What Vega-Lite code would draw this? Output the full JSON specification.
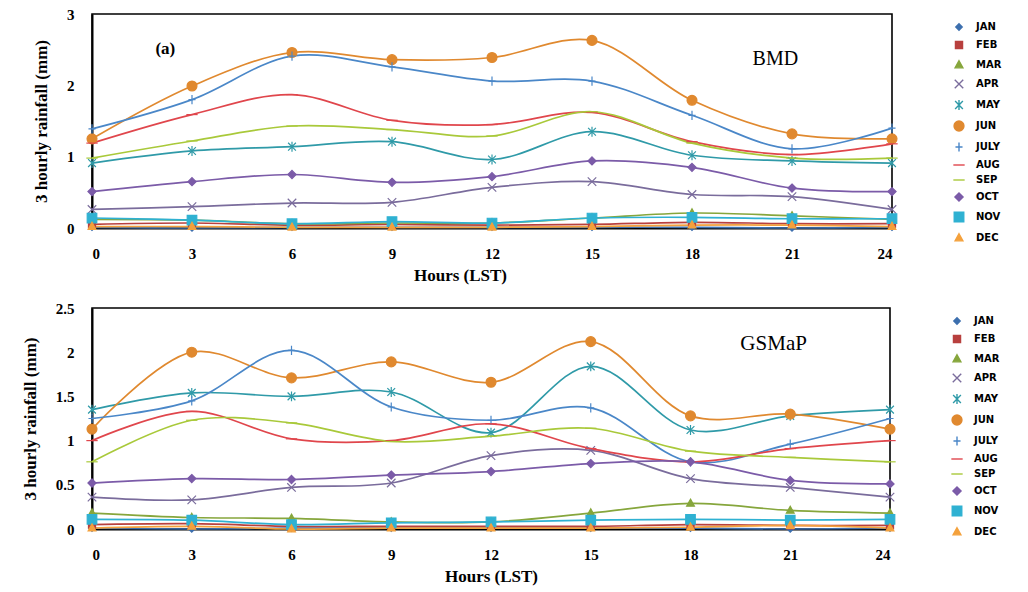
{
"$schema": "https://vega.github.io/schema/vega-lite/v6.json",
"background": "white",
"padding": {"left": 20, "top": 6, "right": 4, "bottom": 2},
"spacing": 16,
"datasets": {
"bmd": [
{"m":"JAN","h":0,"v":0.01},{"m":"JAN","h":3,"v":0.0},{"m":"JAN","h":6,"v":0.01},{"m":"JAN","h":9,"v":0.01},{"m":"JAN","h":12,"v":0.01},{"m":"JAN","h":15,"v":0.01},{"m":"JAN","h":18,"v":0.01},{"m":"JAN","h":21,"v":0.0},{"m":"JAN","h":24,"v":0.01},
{"m":"FEB","h":0,"v":0.05},{"m":"FEB","h":3,"v":0.07},{"m":"FEB","h":6,"v":0.04},{"m":"FEB","h":9,"v":0.05},{"m":"FEB","h":12,"v":0.04},{"m":"FEB","h":15,"v":0.05},{"m":"FEB","h":18,"v":0.08},{"m":"FEB","h":21,"v":0.06},{"m":"FEB","h":24,"v":0.06},
{"m":"MAR","h":0,"v":0.12},{"m":"MAR","h":3,"v":0.11},{"m":"MAR","h":6,"v":0.06},{"m":"MAR","h":9,"v":0.07},{"m":"MAR","h":12,"v":0.07},{"m":"MAR","h":15,"v":0.14},{"m":"MAR","h":18,"v":0.21},{"m":"MAR","h":21,"v":0.17},{"m":"MAR","h":24,"v":0.12},
{"m":"APR","h":0,"v":0.26},{"m":"APR","h":3,"v":0.30},{"m":"APR","h":6,"v":0.35},{"m":"APR","h":9,"v":0.36},{"m":"APR","h":12,"v":0.57},{"m":"APR","h":15,"v":0.65},{"m":"APR","h":18,"v":0.47},{"m":"APR","h":21,"v":0.44},{"m":"APR","h":24,"v":0.26},
{"m":"MAY","h":0,"v":0.91},{"m":"MAY","h":3,"v":1.08},{"m":"MAY","h":6,"v":1.14},{"m":"MAY","h":9,"v":1.21},{"m":"MAY","h":12,"v":0.96},{"m":"MAY","h":15,"v":1.35},{"m":"MAY","h":18,"v":1.02},{"m":"MAY","h":21,"v":0.94},{"m":"MAY","h":24,"v":0.91},
{"m":"JUN","h":0,"v":1.25},{"m":"JUN","h":3,"v":1.99},{"m":"JUN","h":6,"v":2.46},{"m":"JUN","h":9,"v":2.36},{"m":"JUN","h":12,"v":2.39},{"m":"JUN","h":15,"v":2.63},{"m":"JUN","h":18,"v":1.79},{"m":"JUN","h":21,"v":1.32},{"m":"JUN","h":24,"v":1.25},
{"m":"JULY","h":0,"v":1.39},{"m":"JULY","h":3,"v":1.80},{"m":"JULY","h":6,"v":2.41},{"m":"JULY","h":9,"v":2.26},{"m":"JULY","h":12,"v":2.06},{"m":"JULY","h":15,"v":2.06},{"m":"JULY","h":18,"v":1.58},{"m":"JULY","h":21,"v":1.11},{"m":"JULY","h":24,"v":1.40},
{"m":"AUG","h":0,"v":1.19},{"m":"AUG","h":3,"v":1.59},{"m":"AUG","h":6,"v":1.87},{"m":"AUG","h":9,"v":1.51},{"m":"AUG","h":12,"v":1.45},{"m":"AUG","h":15,"v":1.62},{"m":"AUG","h":18,"v":1.21},{"m":"AUG","h":21,"v":1.03},{"m":"AUG","h":24,"v":1.18},
{"m":"SEP","h":0,"v":0.98},{"m":"SEP","h":3,"v":1.22},{"m":"SEP","h":6,"v":1.43},{"m":"SEP","h":9,"v":1.38},{"m":"SEP","h":12,"v":1.29},{"m":"SEP","h":15,"v":1.63},{"m":"SEP","h":18,"v":1.19},{"m":"SEP","h":21,"v":0.98},{"m":"SEP","h":24,"v":0.98},
{"m":"OCT","h":0,"v":0.51},{"m":"OCT","h":3,"v":0.65},{"m":"OCT","h":6,"v":0.75},{"m":"OCT","h":9,"v":0.64},{"m":"OCT","h":12,"v":0.72},{"m":"OCT","h":15,"v":0.94},{"m":"OCT","h":18,"v":0.85},{"m":"OCT","h":21,"v":0.56},{"m":"OCT","h":24,"v":0.51},
{"m":"NOV","h":0,"v":0.14},{"m":"NOV","h":3,"v":0.11},{"m":"NOV","h":6,"v":0.06},{"m":"NOV","h":9,"v":0.09},{"m":"NOV","h":12,"v":0.07},{"m":"NOV","h":15,"v":0.14},{"m":"NOV","h":18,"v":0.15},{"m":"NOV","h":21,"v":0.13},{"m":"NOV","h":24,"v":0.13},
{"m":"DEC","h":0,"v":0.02},{"m":"DEC","h":3,"v":0.02},{"m":"DEC","h":6,"v":0.01},{"m":"DEC","h":9,"v":0.01},{"m":"DEC","h":12,"v":0.01},{"m":"DEC","h":15,"v":0.02},{"m":"DEC","h":18,"v":0.04},{"m":"DEC","h":21,"v":0.04},{"m":"DEC","h":24,"v":0.02}
],
"gsmap": [
{"m":"JAN","h":0,"v":0.01},{"m":"JAN","h":3,"v":0.0},{"m":"JAN","h":6,"v":0.01},{"m":"JAN","h":9,"v":0.01},{"m":"JAN","h":12,"v":0.01},{"m":"JAN","h":15,"v":0.01},{"m":"JAN","h":18,"v":0.01},{"m":"JAN","h":21,"v":0.0},{"m":"JAN","h":24,"v":0.01},
{"m":"FEB","h":0,"v":0.05},{"m":"FEB","h":3,"v":0.06},{"m":"FEB","h":6,"v":0.03},{"m":"FEB","h":9,"v":0.03},{"m":"FEB","h":12,"v":0.03},{"m":"FEB","h":15,"v":0.03},{"m":"FEB","h":18,"v":0.05},{"m":"FEB","h":21,"v":0.04},{"m":"FEB","h":24,"v":0.04},
{"m":"MAR","h":0,"v":0.18},{"m":"MAR","h":3,"v":0.13},{"m":"MAR","h":6,"v":0.12},{"m":"MAR","h":9,"v":0.08},{"m":"MAR","h":12,"v":0.08},{"m":"MAR","h":15,"v":0.18},{"m":"MAR","h":18,"v":0.29},{"m":"MAR","h":21,"v":0.21},{"m":"MAR","h":24,"v":0.18},
{"m":"APR","h":0,"v":0.36},{"m":"APR","h":3,"v":0.33},{"m":"APR","h":6,"v":0.47},{"m":"APR","h":9,"v":0.52},{"m":"APR","h":12,"v":0.83},{"m":"APR","h":15,"v":0.89},{"m":"APR","h":18,"v":0.57},{"m":"APR","h":21,"v":0.47},{"m":"APR","h":24,"v":0.36},
{"m":"MAY","h":0,"v":1.35},{"m":"MAY","h":3,"v":1.54},{"m":"MAY","h":6,"v":1.50},{"m":"MAY","h":9,"v":1.55},{"m":"MAY","h":12,"v":1.09},{"m":"MAY","h":15,"v":1.84},{"m":"MAY","h":18,"v":1.12},{"m":"MAY","h":21,"v":1.28},{"m":"MAY","h":24,"v":1.35},
{"m":"JUN","h":0,"v":1.13},{"m":"JUN","h":3,"v":2.00},{"m":"JUN","h":6,"v":1.71},{"m":"JUN","h":9,"v":1.89},{"m":"JUN","h":12,"v":1.66},{"m":"JUN","h":15,"v":2.12},{"m":"JUN","h":18,"v":1.28},{"m":"JUN","h":21,"v":1.30},{"m":"JUN","h":24,"v":1.13},
{"m":"JULY","h":0,"v":1.25},{"m":"JULY","h":3,"v":1.45},{"m":"JULY","h":6,"v":2.02},{"m":"JULY","h":9,"v":1.38},{"m":"JULY","h":12,"v":1.23},{"m":"JULY","h":15,"v":1.37},{"m":"JULY","h":18,"v":0.76},{"m":"JULY","h":21,"v":0.96},{"m":"JULY","h":24,"v":1.25},
{"m":"AUG","h":0,"v":1.00},{"m":"AUG","h":3,"v":1.33},{"m":"AUG","h":6,"v":1.02},{"m":"AUG","h":9,"v":1.00},{"m":"AUG","h":12,"v":1.19},{"m":"AUG","h":15,"v":0.91},{"m":"AUG","h":18,"v":0.76},{"m":"AUG","h":21,"v":0.91},{"m":"AUG","h":24,"v":1.00},
{"m":"SEP","h":0,"v":0.76},{"m":"SEP","h":3,"v":1.23},{"m":"SEP","h":6,"v":1.20},{"m":"SEP","h":9,"v":0.99},{"m":"SEP","h":12,"v":1.05},{"m":"SEP","h":15,"v":1.14},{"m":"SEP","h":18,"v":0.88},{"m":"SEP","h":21,"v":0.81},{"m":"SEP","h":24,"v":0.76},
{"m":"OCT","h":0,"v":0.52},{"m":"OCT","h":3,"v":0.57},{"m":"OCT","h":6,"v":0.56},{"m":"OCT","h":9,"v":0.61},{"m":"OCT","h":12,"v":0.65},{"m":"OCT","h":15,"v":0.74},{"m":"OCT","h":18,"v":0.76},{"m":"OCT","h":21,"v":0.55},{"m":"OCT","h":24,"v":0.51},
{"m":"NOV","h":0,"v":0.11},{"m":"NOV","h":3,"v":0.10},{"m":"NOV","h":6,"v":0.05},{"m":"NOV","h":9,"v":0.07},{"m":"NOV","h":12,"v":0.08},{"m":"NOV","h":15,"v":0.10},{"m":"NOV","h":18,"v":0.11},{"m":"NOV","h":21,"v":0.10},{"m":"NOV","h":24,"v":0.11},
{"m":"DEC","h":0,"v":0.01},{"m":"DEC","h":3,"v":0.03},{"m":"DEC","h":6,"v":0.0},{"m":"DEC","h":9,"v":0.01},{"m":"DEC","h":12,"v":0.01},{"m":"DEC","h":15,"v":0.01},{"m":"DEC","h":18,"v":0.02},{"m":"DEC","h":21,"v":0.04},{"m":"DEC","h":24,"v":0.01}
]
},
"vconcat": [
{
"width": 800, "height": 214,
"data": {"name": "bmd"},
"layer": [
{"mark": {"type": "line", "interpolate": "catmull-rom", "strokeWidth": 1.7},
 "encoding": {
  "x": {"field": "h", "type": "quantitative", "scale": {"domain": [0, 24], "nice": false}, "axis": {"values": [0,3,6,9,12,15,18,21,24], "title": "Hours (LST)", "titleX": 368}},
  "y": {"field": "v", "type": "quantitative", "scale": {"domain": [0, 3], "nice": false}, "axis": {"values": [0,0.5,1,1.5,2,2.5,3], "format": "~g", "title": "3 hourly rainfall (mm)"}},
  "color": {"field": "m", "type": "nominal", "sort": null,
   "scale": {"domain": ["JAN","FEB","MAR","APR","MAY","JUN","JULY","AUG","SEP","OCT","NOV","DEC"], "range": ["#3d6fae","#b8403e","#86a63c","#7a6c9c","#2f9aa8","#e0892f","#4a87c8","#e0464c","#a9c93a","#7b5ba8","#2fb1d2","#f4a13c"]}},
  "detail": {"field": "m"}
 }},
{"mark": {"type": "point", "filled": true, "size": 50, "strokeWidth": 1.2, "opacity": 1},
 "encoding": {
  "x": {"field": "h", "type": "quantitative"},
  "y": {"field": "v", "type": "quantitative"},
  "color": {"field": "m", "type": "nominal", "sort": null},
  "stroke": {"field": "m", "type": "nominal", "legend": null,
   "scale": {"domain": ["JAN","FEB","MAR","APR","MAY","JUN","JULY","AUG","SEP","OCT","NOV","DEC"], "range": ["#3d6fae","#b8403e","#86a63c","#7a6c9c","#2f9aa8","#e0892f","#4a87c8","#e0464c","#a9c93a","#7b5ba8","#2fb1d2","#f4a13c"]}},
  "shape": {"field": "m", "type": "nominal", "sort": null,
   "scale": {"domain": ["JAN","FEB","MAR","APR","MAY","JUN","JULY","AUG","SEP","OCT","NOV","DEC"], "range": [
    "M0,-0.9L0.9,0L0,0.9L-0.9,0Z",
    "M-1,-1H1V1H-1Z",
    "M0,-1.2L1.1,0.8H-1.1Z",
    "M-1.2,-1.2L1.2,1.2M-1.2,1.2L1.2,-1.2",
    "M-1.1,-1.1L1.1,1.1M-1.1,1.1L1.1,-1.1M0,-1.4V1.4",
    "M-1.4,0A1.4,1.4,0,1,1,1.4,0A1.4,1.4,0,1,1,-1.4,0Z",
    "M-1,0H1M0,-1.3V1.3",
    "M-1.6,0H1.6",
    "M-1.6,0H1.6",
    "M0,-1.15L1.15,0L0,1.15L-1.15,0Z",
    "M-1.35,-1.35H1.35V1.35H-1.35Z",
    "M0,-1.2L1.1,0.8H-1.1Z"]}}
 }},
{"data": {"values": [{}]},
 "mark": {"type": "text", "font": "Liberation Serif", "fontWeight": "bold", "fontSize": 17, "color": "black"},
 "encoding": {"x": {"datum": 2.2, "type": "quantitative"}, "y": {"datum": 2.51, "type": "quantitative"}, "text": {"value": "(a)"}}},
{"data": {"values": [{}]},
 "mark": {"type": "text", "font": "Liberation Serif", "fontWeight": "normal", "fontSize": 20, "color": "black"},
 "encoding": {"x": {"datum": 20.5, "type": "quantitative"}, "y": {"datum": 2.37, "type": "quantitative"}, "text": {"value": "BMD"}}}
]
},
{
"width": 798, "height": 221,
"data": {"name": "gsmap"},
"layer": [
{"mark": {"type": "line", "interpolate": "catmull-rom", "strokeWidth": 1.7},
 "encoding": {
  "x": {"field": "h", "type": "quantitative", "scale": {"domain": [0, 24], "nice": false}, "axis": {"values": [0,3,6,9,12,15,18,21,24], "title": "Hours (LST)"}},
  "y": {"field": "v", "type": "quantitative", "scale": {"domain": [0, 2.5], "nice": false}, "axis": {"values": [0,0.5,1,1.5,2,2.5], "format": "~g", "title": "3 hourly rainfall (mm)"}},
  "color": {"field": "m", "type": "nominal", "sort": null},
  "detail": {"field": "m"}
 }},
{"mark": {"type": "point", "filled": true, "size": 50, "strokeWidth": 1.2, "opacity": 1},
 "encoding": {
  "x": {"field": "h", "type": "quantitative"},
  "y": {"field": "v", "type": "quantitative"},
  "color": {"field": "m", "type": "nominal", "sort": null},
  "stroke": {"field": "m", "type": "nominal", "legend": null},
  "shape": {"field": "m", "type": "nominal", "sort": null}
 }},
{"data": {"values": [{}]},
 "mark": {"type": "text", "font": "Liberation Serif", "fontWeight": "normal", "fontSize": 21, "color": "black"},
 "encoding": {"x": {"datum": 20.5, "type": "quantitative"}, "y": {"datum": 2.09, "type": "quantitative"}, "text": {"value": "GSMaP"}}}
]
}
],
"resolve": {"legend": {"color": "independent", "shape": "independent"}},
"config": {
 "view": {"stroke": "black", "strokeWidth": 1.6},
 "axis": {"labelFont": "Liberation Serif", "labelFontWeight": "bold", "labelFontSize": 15, "labelColor": "black",
  "titleFont": "Liberation Serif", "titleFontWeight": "bold", "titleFontSize": 17, "titleColor": "black",
  "ticks": false, "grid": false, "domainColor": "black", "domainWidth": 2, "labelPadding": 18, "titlePadding": 16},
 "axisX": {"labelPadding": 18, "titlePadding": 6},
 "legend": {"orient": "right", "offset": 50, "title": null, "labelFont": "DejaVu Sans", "labelFontWeight": "bold", "labelFontSize": 10, "labelColor": "black",
  "symbolSize": 50, "symbolStrokeWidth": 1.4, "rowPadding": 5, "labelOffset": 12, "padding": 8}
}
}
